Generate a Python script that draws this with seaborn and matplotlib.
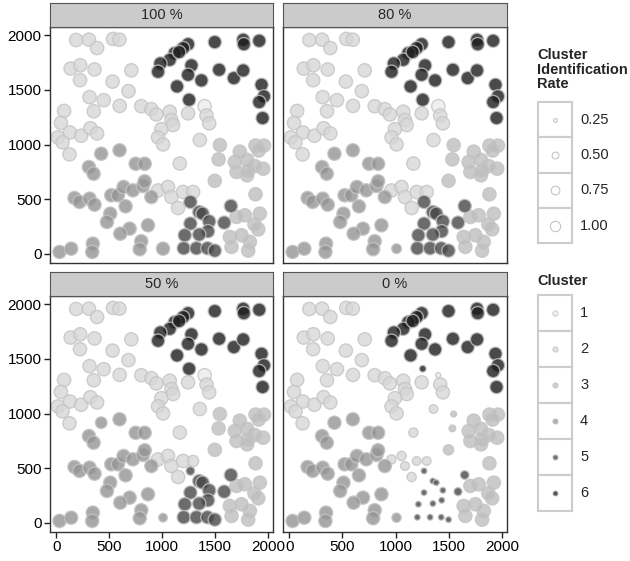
import matplotlib
matplotlib.use("Agg")
import matplotlib.pyplot as plt
from matplotlib.patches import Rectangle
import pandas as pd
import seaborn as sns

sns.set_style("white")
plt.rcParams['font.family'] = ['Liberation Sans', 'DejaVu Sans']

# panels and legend levels
panels = ["100 %", "80 %", "50 %", "0 %"]
clusters = [1, 2, 3, 4, 5, 6]
cluster_colors = ["#ececec", "#d7d7d7", "#bebebe", "#949494", "#474747", "#1d1d1d"]
rate_ticks = [0.25, 0.50, 0.75, 1.00]
axis_ticks = [0, 500, 1000, 1500, 2000]

# point locations per cluster
c1_pts = [(1400, 1350)]
c2_pts = [(189, 1955), (309, 1958), (386, 1882), (536, 1965), (597, 1958),
          (137, 1694), (227, 1724), (362, 1686), (225, 1588), (709, 1678),
          (532, 1575), (682, 1488), (315, 1433), (449, 1405), (355, 1304),
          (599, 1353), (75, 1307), (45, 1197), (130, 1110), (236, 1080),
          (323, 1149), (386, 1101), (16, 1065), (60, 1020), (126, 910),
          (803, 1350), (898, 1323), (945, 1275), (1071, 1300), (1087, 1224),
          (1103, 1178), (992, 1140), (961, 1065), (1008, 1001), (1244, 1285),
          (1166, 826), (1355, 1041), (1418, 1265), (1443, 1193),
          (960, 580), (1055, 612), (1087, 520), (1150, 420), (1197, 566), (1291, 566)]
c3_pts = [(1544, 995), (1532, 864), (1685, 840), (1732, 935), (1880, 990),
          (1960, 990), (1910, 945), (1953, 779), (1874, 803), (1800, 860),
          (1811, 764), (1701, 749), (1801, 718), (1496, 668), (1880, 545),
          (1780, 353), (1921, 368), (1701, 338), (1638, 155), (1748, 171),
          (1906, 225), (1827, 110), (1654, 64), (1811, 30), (1870, 270)]
c4_pts = [(425, 916), (598, 947), (309, 794), (353, 733), (750, 824), (835, 824),
          (173, 511), (220, 475), (315, 505), (362, 450), (520, 536), (583, 536),
          (636, 612), (724, 581), (819, 621), (835, 664), (898, 520), (655, 435),
          (510, 368), (479, 292), (693, 231), (605, 185), (866, 262), (346, 94),
          (340, 18), (803, 116), (788, 43), (32, 18), (142, 48), (1008, 48)]
c5_pts = [(1266, 475), (1349, 383), (1381, 368), (1443, 298), (1266, 277),
          (1432, 207), (1349, 177), (1213, 171), (1585, 286), (1648, 438),
          (1203, 52), (1323, 52), (1427, 52), (1496, 30)]
c6_pts = [(1244, 1917), (1197, 1881), (1118, 1835), (1071, 1774), (983, 1741),
          (961, 1665), (1160, 1845), (1496, 1936), (1764, 1957), (1770, 1917),
          (1915, 1948), (1276, 1723), (1244, 1637), (1537, 1683), (1676, 1607),
          (1764, 1677), (1370, 1586), (1140, 1531), (1254, 1409), (1937, 1546),
          (1960, 1440), (1915, 1388), (1947, 1242)]
cluster_pts = [c1_pts, c2_pts, c3_pts, c4_pts, c5_pts, c6_pts]

# identification rates that are below 1.0 in each panel
rates_100 = {}
rates_80 = {(1008, 48): 0.6}
rates_50 = {(1008, 48): 0.5, (1266, 475): 0.5, (1291, 566): 0.75, (425, 916): 0.8}
rates_0 = {(1400, 1350): 0.25, (1254, 1409): 0.35,
           (960, 580): 0.55, (1055, 612): 0.55, (1087, 520): 0.5, (1150, 420): 0.55,
           (1197, 566): 0.5, (1291, 566): 0.5, (1166, 826): 0.55, (1355, 1041): 0.5,
           (1544, 995): 0.3, (1532, 864): 0.35, (1496, 668): 0.65, (1008, 48): 0.55,
           (1266, 475): 0.3, (1349, 383): 0.3, (1381, 368): 0.3, (1443, 298): 0.3,
           (1266, 277): 0.3, (1432, 207): 0.3, (1349, 177): 0.3, (1213, 171): 0.3,
           (1585, 286): 0.45, (1648, 438): 0.5, (1203, 52): 0.3, (1323, 52): 0.3,
           (1427, 52): 0.3, (1496, 30): 0.3}
panel_rates = [rates_100, rates_80, rates_50, rates_0]

rows = []
for panel, low in zip(panels, panel_rates):
    for cid, pts in zip(clusters, cluster_pts):
        for (x, y) in pts:
            rows.append({"panel": panel, "x": x, "y": y, "cluster": cid,
                         "rate": low.get((x, y), 1.0)})
df = pd.DataFrame(rows)

palette = dict(zip(clusters, cluster_colors))
size_range = (13, 92)
size_norm = (0.25, 1.0)

W, H = 630, 561
fig = plt.figure(figsize=(W / 100, H / 100), dpi=100)


def px_axes(l, t, r, b):
    return fig.add_axes([l / W, 1 - b / H, (r - l) / W, (b - t) / H])


boxes = [(50, 27, 273, 263), (283, 27, 507, 263), (50, 296, 273, 532), (283, 296, 507, 532)]

for i, (panel, box) in enumerate(zip(panels, boxes)):
    l, t, r, b = box
    ax = px_axes(l, t, r, b)
    sns.scatterplot(data=df[df.panel == panel], x="x", y="y", hue="cluster",
                    palette=palette, size="rate", sizes=size_range, size_norm=size_norm,
                    alpha=0.8, edgecolor="#c4c4c4", linewidth=1.0, legend=False, ax=ax)
    ax.set_xlim(-58, 2045)
    ax.set_ylim(-83, 2074)
    ax.set_xticks(axis_ticks)
    ax.set_yticks(axis_ticks)
    ax.set_xlabel("")
    ax.set_ylabel("")
    for s in ax.spines.values():
        s.set_color("#333333")
        s.set_linewidth(1.0)
    ax.tick_params(direction="out", length=4, width=1, color="#222222",
                   labelsize=11, pad=2, labelcolor="black",
                   left=(i % 2 == 0), labelleft=(i % 2 == 0),
                   bottom=(i >= 2), labelbottom=(i >= 2))
    # facet strip
    sax = px_axes(l, t - 24, r, t)
    sax.set_facecolor("#cbcbcb")
    sax.set_xticks([])
    sax.set_yticks([])
    for s in sax.spines.values():
        s.set_color("#555555")
        s.set_linewidth(0.8)
    sax.text(0.5, 0.5, panel, ha="center", va="center", fontsize=10.5, transform=sax.transAxes)

# legends drawn in pixel coordinates
lg = fig.add_axes([0, 0, 1, 1], facecolor="none")
lg.set_xlim(0, W)
lg.set_ylim(H, 0)
lg.axis("off")


def key_size(r):
    return size_range[0] + (r - size_norm[0]) / (size_norm[1] - size_norm[0]) * (size_range[1] - size_range[0])


for k, line in enumerate(["Cluster", "Identification", "Rate"]):
    lg.text(537, 55 + k * 14.5, line, fontsize=10.5, fontweight="bold", va="center", ha="left")
for k, r in enumerate(rate_ticks):
    top = 102 + k * 35.3
    lg.add_patch(Rectangle((538, top), 34, 35.3, facecolor="white", edgecolor="#cccccc", lw=1.5))
    lg.scatter([555], [top + 17.6], s=key_size(r) * 0.6, facecolor="white", edgecolor="#c4c4c4", linewidth=0.8)
    lg.text(580, top + 17.6, f"{r:.2f}", fontsize=10.5, va="center", ha="left")

lg.text(537, 281, "Cluster", fontsize=10.5, fontweight="bold", va="center", ha="left")
for k, (cid, col) in enumerate(zip(clusters, cluster_colors)):
    top = 295 + k * 36
    lg.add_patch(Rectangle((538, top), 34, 36, facecolor="white", edgecolor="#cccccc", lw=1.5))
    lg.scatter([555], [top + 18], s=14, facecolor=col, edgecolor="#c4c4c4", linewidth=0.8, alpha=0.75)
    lg.text(580, top + 18, str(cid), fontsize=10.5, va="center", ha="left")

fig.savefig("out.png", dpi=100)
